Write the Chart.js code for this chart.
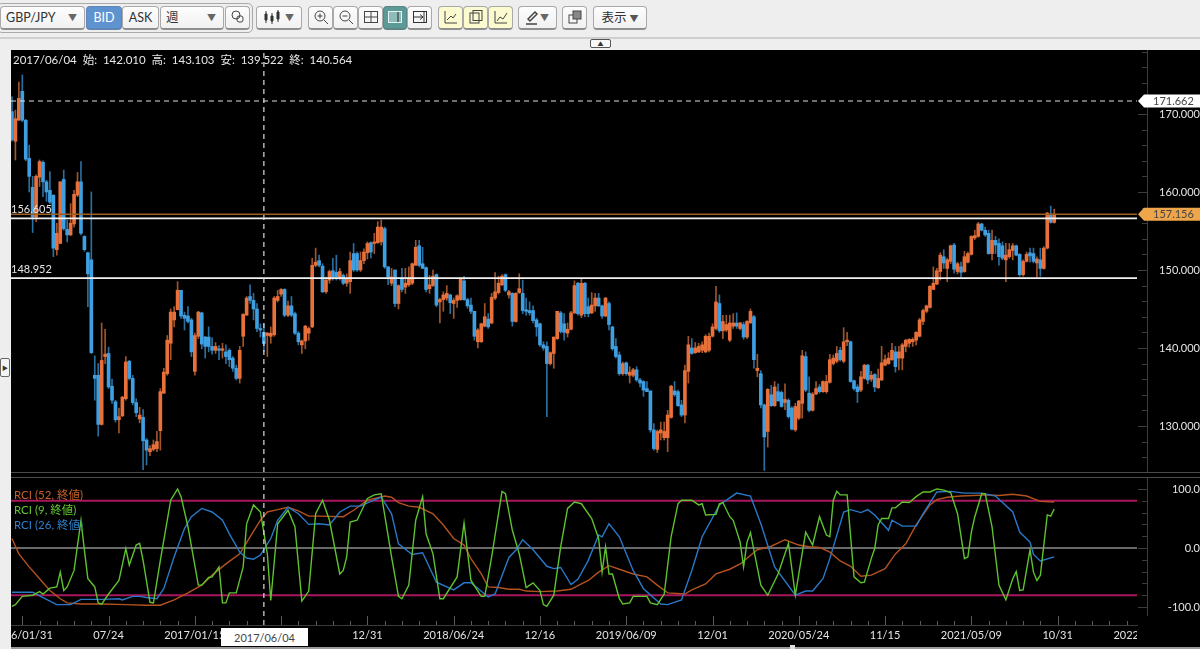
<!DOCTYPE html>
<html>
<head>
<meta charset="utf-8">
<script src="https://cdn.jsdelivr.net/npm/chart.js@4"></script>
<style>
  html, body { margin: 0; padding: 0; background: #eeeeee; overflow: hidden; }
  body { width: 1200px; height: 649px; position: relative; font-family: Lato, "Noto Sans CJK JP", sans-serif; }
  .abs { position: absolute; }
  .btn { position: absolute; top: 6px; height: 24px; box-sizing: border-box; background: linear-gradient(#fdfdfd, #f1f1f1); border: 1px solid #a9a9a9; border-bottom: 2px solid #8f8f8f; border-radius: 4px; color: #333; font-size: 12.5px; line-height: 21px; text-align: center; }
  .btn svg { display: block; margin: 2px auto 0; }
  .arrow { position: absolute; right: 7px; top: 0; font-size: 9px; color: #666; }
  .yellow { background: #fbfbcf; }
  #info { left: 13px; top: 51px; color: #e8e8e8; font-size: 11.5px; white-space: pre; z-index: 3; }
  .legend { left: 14px; font-size: 11.5px; z-index: 3; }
</style>
</head>
<body>

<!-- toolbar -->
<div class="abs" style="left:-3px;top:3px;width:256px;height:30px;border:1px solid #a9a9a9;border-radius:5px;box-sizing:border-box"></div>
<div class="btn" style="left:0;width:85px;text-align:left;padding-left:5px">GBP/JPY<span class="arrow">▼</span></div>
<div class="btn" style="left:86px;width:36px;background:#5f93cf;color:#fff;border-color:#5f86b5">BID</div>
<div class="btn" style="left:122px;width:37px">ASK</div>
<div class="btn" style="left:160px;width:64px;text-align:left;padding-left:5px">週<span class="arrow">▼</span></div>
<div class="btn" style="left:225px;width:25px"><svg width="16" height="16" fill="none" stroke="#444"><circle cx="6" cy="6" r="4"/><rect x="7" y="7" width="6" height="6" rx="2"/></svg></div>
<div class="btn" style="left:256px;width:46px;text-align:left"><svg width="22" height="16" style="margin-left:5px" stroke="#333"><path d="M4 2v12M10 4v11M16 1v12"/><path d="M3 5h2v6h-2zM9 7h2v5h-2zM15 3h2v7h-2z" fill="#333"/></svg><span class="arrow">▼</span></div>
<div class="btn" style="left:308px;width:25px"><svg width="16" height="16" fill="none" stroke="#444"><circle cx="7" cy="7" r="5"/><path d="M4.5 7h5M7 4.5v5M11 11l4 4"/></svg></div>
<div class="btn" style="left:333px;width:25px"><svg width="16" height="16" fill="none" stroke="#444"><circle cx="7" cy="7" r="5"/><path d="M4.5 7h5M11 11l4 4"/></svg></div>
<div class="btn" style="left:358px;width:25px"><svg width="16" height="16" fill="none" stroke="#444"><rect x="1.5" y="2.5" width="13" height="11"/><path d="M8 3v10M2 8h12"/></svg></div>
<div class="btn" style="left:383px;width:24px;background:#5c9a98;border-color:#5c8583"><svg width="16" height="16" fill="none" stroke="#e8f2f2"><rect x="1.5" y="2.5" width="13" height="11" fill="#8dbcba"/><path d="M11 3v10" stroke="#222"/></svg></div>
<div class="btn" style="left:407px;width:25px"><svg width="16" height="16" fill="none" stroke="#333"><rect x="1.5" y="2.5" width="13" height="11"/><path d="M2 8h9M8 5.5l3 2.5-3 2.5M12 3v10"/></svg></div>
<div class="btn yellow" style="left:438px;width:25px"><svg width="16" height="16" fill="none" stroke="#444"><path d="M2 2v12h12M4 11l4-4 2 2 3-4"/></svg></div>
<div class="btn yellow" style="left:463px;width:25px"><svg width="16" height="16" fill="none" stroke="#444"><rect x="2" y="4" width="9" height="10"/><rect x="5" y="1.5" width="9" height="10"/></svg></div>
<div class="btn yellow" style="left:488px;width:25px"><svg width="16" height="16" fill="none" stroke="#444"><path d="M2 2v12h12M4 12l3-4 3 2 4-6"/></svg></div>
<div class="btn" style="left:518px;width:39px;text-align:left"><svg width="16" height="16" style="margin-left:5px" fill="none" stroke="#444"><path d="M4 10l7-7 2 2-7 7zM2 15h11" stroke-width="1.5"/></svg><span class="arrow">▼</span></div>
<div class="btn" style="left:562px;width:25px"><svg width="16" height="16" fill="none" stroke="#444"><rect x="2" y="6" width="8" height="8"/><rect x="6" y="2" width="8" height="8" fill="#888"/></svg></div>
<div class="btn" style="left:593px;width:54px">表示 <span style="font-size:9px;color:#555">▼</span></div>

<div class="abs" style="left:0;top:37px;width:1200px;height:2px;background:#cfcfcf"></div>
<div class="abs" style="left:590px;top:39px;width:21px;height:9px;box-sizing:border-box;border:1px solid #555;border-radius:2px;background:#f8f8f8;color:#333;font-size:6px;line-height:7px;text-align:center">▲</div>
<div class="abs" style="left:0;top:358px;width:10px;height:19px;box-sizing:border-box;border:1px solid #666;border-radius:2px;background:#f4f4f4;color:#333;font-size:6px;line-height:17px;text-align:center">▶</div>

<!-- panels -->
<div class="abs" style="left:11px;top:50px;width:1189px;height:597px;background:#000"></div>
<div class="abs" style="left:11px;top:472px;width:1189px;height:1px;background:#4a4a4a;z-index:2"></div>
<div class="abs" style="left:11px;top:477px;width:1189px;height:1px;background:#4a4a4a;z-index:2"></div>
<canvas id="priceChart" class="abs" style="left:11px;top:50px" width="1189" height="422"></canvas>
<canvas id="rciChart" class="abs" style="left:11px;top:478px" width="1189" height="169"></canvas>
<div class="abs" style="left:11px;top:647px;width:1189px;height:2px;background:#9a9a9a"></div>
<div class="abs" style="left:1137px;top:626px;width:63px;height:21px;background:#000"></div>
<div class="abs" style="left:790px;top:645px;width:5px;height:4px;background:#ddd"></div>

<div id="info" class="abs">2017/06/04  始:  142.010  高:  143.103  安:  139.522  終:  140.564</div>
<div class="abs legend" style="top:486px;color:#c4622a">RCI (52, 終値)</div>
<div class="abs legend" style="top:501px;color:#63c92f">RCI (9, 終値)</div>
<div class="abs legend" style="top:516px;color:#2f7fc9">RCI (26, 終値)</div>
<div class="abs" style="left:221px;top:628px;width:87px;height:18px;background:#fff;color:#444;font-size:11px;line-height:19px;text-align:center;z-index:3">2017/06/04</div>

<script>
// weekly candles, first one is week -3 (week 0 = 2016/01/31)
const firstWeek = -3;
const opens = [
  170.3,166.5,169.2,172.9,169.2,164.3,160.6,156.8,161.9,163.8,
  161.3,160.2,159.6,152.6,153.4,161.6,155.2,154.5,155.9,159.6,
  161.3,154.3,152.2,151.3,136.5,136.5,130.2,138.9,139.3,135.1,
  133.1,130.8,131.3,133.5,138.3,136.1,133,130.9,131.1,128.2,
  126.7,127,127.1,129.4,134.2,136.7,140.6,143.6,144.9,147.4,
  144.2,144.1,143.6,137,141.5,144.5,141.4,141.4,140.2,139.7,
  139.9,139.7,139.5,139.7,138.7,137.4,136.1,141.5,144.2,146.6,
  146.1,145,142.5,142.01,141.6,141.5,141.7,146.1,146.9,147.5,
  144.2,145.4,144.4,141.9,140.4,140.9,141.9,142.7,150.6,151.2,
  150.5,147.2,148.7,149.9,149.7,149,149.3,148.3,148.5,152.1,
  152.1,150,151.2,152.2,153.5,153.4,153.5,153.6,155.3,150.4,
  148.3,150,145.7,149,147.8,148.1,148.3,150.6,153.1,150.8,
  150.3,147.6,148,149.4,145.9,146.2,146.4,146.8,145.7,146.1,
  146.2,148.6,146.2,145.5,144.7,140.8,140.8,142.8,143.7,143.2,
  146.4,147.1,148.1,149.4,146.8,147,143.4,147.1,147,144.9,
  144.8,144.8,143.6,143.1,140.4,140.2,138,139.3,141.2,144.5,
  143.1,141.9,142.4,144.5,148.3,144.2,148.3,145.3,144.5,145.4,
  146.4,145.4,144.1,145.7,142.7,140.2,139.1,136.7,138.1,136.5,
  136.5,137.2,135.9,135.7,134.8,134.5,129.5,127,129.1,128.5,
  128.5,131.1,134.5,134.4,132.7,131.4,137,140,139.4,139.5,
  139.7,139.5,139.7,141.5,142.5,145.7,142.2,142.3,141,142.8,
  143.2,142.5,143,141.4,143.2,144,137.1,136.7,132.7,129.3,
  134,132.6,134.4,134.3,133,133.3,132.3,129.5,131,132.9,
  138.9,134.2,132,134.1,135,134.4,134.4,135.6,138,138.3,
  139.7,138.3,140.8,140.8,135.8,135,134.6,136.1,137.8,136,
  136.6,134.9,135.9,137.8,138,138.5,139.5,138.7,138.7,140.2,
  140.6,140.8,141,141.5,143.4,144.7,145.2,147.5,148.2,149.8,
  151.7,150.2,151.1,153.2,149.8,150.4,149.8,151,152,154.1,
  154.3,155.9,155.1,154.7,152.1,153.8,153.4,153.1,151.3,151.7,
  152.5,153.1,152,149.4,151.1,152.2,152.1,150.9,151.3,150.2,
  152.8,157.1,156.1
];
const closes = [
  166.7,169.4,172,169.2,164.2,162,156.8,162,163.9,161.3,
  160,158.7,152.8,154.7,161.3,155.3,154.5,156,159.7,161.3,
  154.7,152.6,149.5,139.4,136.1,130.2,138.4,139.2,135,133.3,
  130.8,131.2,133.7,138.2,136.1,133,131.7,131.4,128.1,126.9,
  127.1,127.6,128,134.4,136.9,141,144.6,144.6,147.4,144.1,
  143.8,143.4,139.5,141.6,144.6,140.5,140.2,140.2,139.7,140.2,
  139.7,139.9,138.9,138.5,137.4,136.1,139.7,144.3,146.4,146.1,
  145,142.5,142.3,140.564,141.9,141.9,146.4,146.6,147.5,144.2,
  145.4,144.2,141.9,140.8,140.9,142.8,142.5,150.6,151,150.6,
  147.2,148.7,149.8,149.1,149.1,149.8,148.3,148.9,151.2,150,
  150,151.2,152.3,153.4,152.3,153.6,155.5,155.5,150.4,149.1,
  149.1,145.7,148,147.5,148.3,149,150.8,152.9,150.6,150.2,
  147.5,148.1,149.2,145.5,146.2,146.8,147,145.8,146.1,146.7,
  148.8,146.2,145.4,144.7,141.5,142.3,143.1,144,142.7,146.5,
  147.2,148.3,149.2,147.4,147.2,143.4,147,147.6,144.8,144.7,
  144.5,143.5,142.7,140.4,140,138,139.4,141.4,144.7,142.1,
  142,142.4,144.5,148,144.4,148.3,144.4,144.4,145.5,146.4,
  145.4,144.1,146.4,143,139.9,138.9,136.7,138,136.7,136.9,
  137.2,135.9,135.5,134.6,134.4,129.5,127.1,129.3,129.5,129.3,
  131.4,135.1,134,132.6,131.4,137.1,140.4,139.3,140,140.2,
  140.4,141.5,141.5,142.7,145.9,142.2,143.4,143,143.2,143.2,
  142.8,143.2,141.4,143.4,144.7,138.5,137.4,132.7,128.6,134.7,
  132.6,135,133.2,132.5,133.4,131.2,129.6,132.5,133.2,139,
  134.6,132,134.1,134.8,134.4,135.7,135.7,138.5,138.7,139.3,
  138.5,140.8,141,135.7,134.8,134.4,136.3,137.8,135.9,136.5,
  135,136.1,138.1,138.5,138.7,139.7,137.6,139.5,140.4,141,
  141.1,141.1,142,143.6,144.8,145.4,147.9,148.3,149.9,151.9,
  150.9,151.3,153.1,150.1,150.8,149.7,151.7,152.1,154.3,154.4,
  155.9,155.1,154.5,152.1,153.8,153.2,151.7,151.5,151.9,152.6,
  153.1,151.9,149.4,151.1,152,151.8,151.1,151.4,150.2,152.8,
  157.3,156.1,157.156
];
const highs = [
  172.2,170.5,174.1,175,169.3,166,162,162.2,164.1,164,
  161.5,162.6,159.6,156,161.3,162.8,156.4,158.5,160.2,162.5,
  163.9,154.4,152.3,160,139,138,143.2,142.4,140.1,136,
  133.3,132.3,133.8,138.9,138.4,136.5,133.5,132.4,132.1,128.4,
  127.5,128.2,129.3,134.8,137.4,141.6,145,145.3,148.5,147.4,
  144.6,145.3,143.8,141.9,144.7,144.6,141.5,142.7,141.3,140.7,
  140.3,140.6,140.4,139.9,138.9,137.8,140.2,144.4,146.6,148.1,
  147,145.7,143.1,143.103,142,142.7,146.6,147.4,147.6,147.6,
  146,146.6,144.6,142.1,141,142.9,142.7,151.5,152.8,151.9,
  150.8,149.1,150,151.5,151.9,150.2,149.5,149.5,152.3,153.4,
  152.3,152.3,152.7,153.6,153.6,154.7,156.2,156.4,155.5,150.4,
  150.2,150,148.1,150.2,150.2,150.4,150.9,153.8,153.8,152.9,
  150.4,149.3,150,149.5,146.4,147.2,148,146.9,146.4,146.8,
  149,149.2,146.4,146.4,144.7,142.5,143.2,145.7,144.4,147,
  149.65,149.2,149.4,149.5,147.4,147.1,147.1,149.5,148.7,146.4,
  145.9,145.4,143.8,143.2,140.8,140.8,139.5,141.4,144.7,144.7,
  144.4,143.2,144.7,148.6,148.4,148.8,148.4,146.4,147.1,147,
  147,145.5,146.5,145.9,142.8,141.2,139.5,138.2,138.2,137.6,
  137.4,137.6,136.1,135.8,135.7,134.5,130.3,129.5,130.5,130.5,
  132,135.2,135.7,134.6,133.3,137.8,141.5,141.2,140.7,140.6,
  140.8,141.7,141.9,143.1,147.9,146.8,144.2,144.2,144.2,144.4,
  144.5,143.3,143.3,143.5,145,144.2,139.2,137.1,132.8,134.8,
  135.2,135.7,135.4,134.5,135.4,133.5,132.5,132.9,133.3,139.7,
  139.5,136.3,134.3,135.7,135.3,135.8,136.5,139.2,139.1,140.2,
  140.1,142.6,142,140.9,135.9,135.3,137,137.9,137.9,137,
  136.7,137.3,140.2,139.1,139.4,140.6,140.2,140.2,140.6,141.1,
  141.2,141.3,142.1,143.8,145,145.5,148,150.4,150.2,152.2,
  152.6,151.5,153.2,153.4,151,151,152.4,152.3,154.4,155.1,
  156.1,156,155.5,155.1,155.1,154.3,154,153.6,153.4,153.4,
  153.4,153.2,152.1,151.3,152.3,152.8,152.8,151.7,152.8,153,
  157.4,158.2,157.8
];
const lows = [
  166.5,164.1,169.2,169,164,160,154.8,156.2,160.7,159.4,
  158.8,158.5,151.7,151.9,153.4,155.1,153.6,154.4,155.5,159.4,
  154.5,152.4,145.3,139.3,133.3,128.7,130.1,138,134.8,132.9,
  130.5,129.1,131.2,133.3,135.9,132.7,131.2,130.4,124.4,125,
  126.2,126.8,126.7,126.9,134.2,136.5,138.5,142.7,144.9,143.8,
  142.3,143.2,138.9,136.5,141.2,139.9,138.7,139.5,139.2,139.3,
  138.5,138.7,138,137.6,137,135.9,135.5,140.2,144.2,145.7,
  143.6,142.1,141.4,139.522,138.9,140.6,141.5,145.9,146.6,144,
  144,144,141.7,140.4,139.3,139.9,141,142.6,150.4,150.4,
  147.1,147,148.3,148.7,148.7,148.7,148.1,147.9,147,149.8,
  149.8,149.8,150.8,151.4,151.5,152.1,153.4,153.2,150.2,148.1,
  148,145.3,145,147.2,147,147.9,148.1,150.6,150.4,150.2,
  147.2,147,147.9,145.3,143.2,144.7,146.1,144.4,143.8,145.2,
  146.1,146.1,145.1,144.4,141,140,140.7,142.7,142.5,143.1,
  146.2,146.9,148,147.2,146.4,142.8,143.3,147,144.4,144.2,
  144.2,143.2,141.5,140.2,139.7,131.2,137.8,137.4,141.1,141.9,
  141,141.4,142.3,144.4,144.2,143.9,144,144,144.4,144.7,
  145.3,143.8,144,142.3,139.7,138.7,136.5,136.5,136.5,135.5,
  136.3,135.7,135,133.8,134.4,129.2,126.9,126.6,128.2,128.2,
  126.7,131,133.8,132.5,131.2,130.4,135.5,139.2,139.3,139.4,
  139.4,139.4,139.5,141.4,142.3,142,141.2,142.1,140.8,142.5,
  142.5,142.3,141.1,141.2,143.2,137.4,136.3,132.3,124.3,127.3,
  132.5,132.5,133.2,132.4,132.1,131,129.5,129.3,130.8,131,
  134.4,131.8,131.9,134,134.2,134.3,134.2,135.5,137.8,138.1,
  138.3,138.1,140.3,135.6,134.6,133,134.4,136,135.4,135.7,
  134.4,134.8,135.8,137.7,137.9,138.4,136.9,137.2,137.2,139.5,
  140.1,140.2,140.4,141.4,143,144.5,145.1,147.5,148.1,148.7,
  150.2,148.5,150.8,149.6,149.5,149.1,149.7,150.9,151.9,153.9,
  154.2,155,154.3,152,151.3,152.1,150.6,151.3,148.5,151.5,
  151.3,151.8,149.2,149.2,151,151,150.9,149.1,149.2,150.1,
  152.7,156,156
];

// RCI lines, read at their turning points
const rci52Weeks = [-3,-1,2,5,8,11,13,17,23,30,36,40,44,48,52,55,59,63,66,69,71,74,77,80,83,86,93,96,100,105,107,109,112,115,119,122,125,128,130,133,135,138,141,144,146,150,155,159,162,164,167,170,173,177,181,184,187,192,194,198,201,205,208,213,217,221,225,228,231,234,237,240,243,246,250,253,256,259,263,265,268,272,280,283,287,291,295,299];
const rci52Values = [16,-10,-32,-52,-72,-86,-93,-95,-95,-96,-97,-97,-88,-76,-63,-46,-27,-10,19,47,61,65,69,63,54,54,53,64,81,88,86,77,71,69,58,39,16,5,-18,-44,-66,-67,-70,-70,-73,-74,-73,-70,-61,-55,-41,-30,-36,-44,-49,-63,-76,-78,-71,-61,-44,-36,-27,-3,3,14,5,2,1,-7,-22,-31,-48,-46,-35,-10,7,39,73,82,86,88,90,89,91,88,79,78];
const rci9Weeks = [-3,-2,0,3,5,6,8,10,11,12,13,15,17,18,19,21,22,23,25,28,30,31,33,34,35,37,38,40,43,45,46,48,51,52,54,55,57,58,59,60,62,64,65,67,69,71,72,74,77,79,81,83,85,87,89,92,93,94,95,97,100,102,104,107,109,110,112,114,116,117,119,121,122,126,128,130,133,134,136,139,140,142,144,146,148,150,151,152,154,156,158,160,162,165,167,168,169,170,171,173,174,176,177,181,182,184,186,188,190,191,194,196,197,198,201,202,203,205,206,208,209,210,211,212,214,216,219,222,224,225,227,229,231,233,234,235,236,237,239,241,243,244,246,247,248,249,251,252,253,255,257,259,261,263,265,267,269,271,273,274,275,276,278,279,281,283,285,287,288,289,290,292,293,294,295,297,298,299];
const rci9Values = [-99,-96,-82,-80,-74,-78,-68,-66,-41,-72,-66,-38,47,-4,-52,-66,-93,-95,-78,-55,-1,-29,5,8,-21,-92,-93,-21,81,100,87,36,-63,-63,-50,-49,-32,-93,-93,-76,-76,-32,41,73,61,-10,-89,41,64,36,-90,-73,58,81,47,-44,-38,-15,44,47,84,90,92,-15,-82,-86,-63,47,87,24,-10,-86,-86,-49,42,-55,-82,-82,-15,96,92,30,-10,-67,-59,-72,-96,-99,-80,2,67,78,75,50,16,-41,2,-44,-44,-86,-95,-93,-82,-82,-93,-96,-78,19,75,81,81,73,75,56,57,75,77,53,47,10,-32,10,26,-4,-63,-80,-44,8,-80,-44,27,5,53,22,19,81,96,90,90,-49,-59,-58,-18,-1,39,50,50,68,68,78,77,87,95,95,100,98,94,58,-18,-15,27,53,92,92,36,-63,-88,-52,-40,-72,-71,-3,-41,-55,-46,56,54,66];
const rci26Weeks = [-3,3,6,10,14,17,23,28,29,32,34,36,39,41,44,47,49,52,55,58,60,63,65,67,69,72,74,77,80,83,86,89,92,95,98,101,104,107,109,113,116,120,125,128,130,135,137,141,143,145,148,152,154,156,159,161,164,167,168,170,173,177,180,185,187,191,194,197,202,207,211,214,218,224,227,229,232,234,238,240,243,245,247,251,252,255,259,261,265,269,273,278,282,287,289,292,293,295,299];
const rci26Values = [-75,-75,-84,-96,-96,-87,-87,-86,-88,-82,-82,-84,-86,-69,-15,33,53,67,61,47,24,-7,-17,-19,-12,16,47,69,58,40,41,39,61,71,71,79,86,58,7,-11,-8,-58,-71,-59,-59,-83,-78,-16,-4,14,-3,-31,-35,-33,-62,-53,-21,22,19,41,19,-38,-69,-95,-96,-88,-38,19,73,93,88,41,-32,-80,-73,-73,-52,-18,61,65,60,65,56,30,47,37,37,58,95,96,93,93,88,61,27,10,-11,-22,-15];

// horizontal levels of the price panel
const lastPrice = 157.156;
const highLevel = 171.662;
const supportLevels = [156.605, 148.952];
const cursorWeek = 70;

// axes
const priceTicks = [130, 140, 150, 160, 170];
const rciTicks = [-100, 0, 100];
const rciBands = [80, -80];
const dateTickWeeks = [0,25,50,75,100,125,150,175,200,225,250,275,300,325];
const dateTickLabels = ["2016/01/31","07/24","2017/01/15","07/09","12/31","2018/06/24","12/16","2019/06/09","12/01","2020/05/24","11/15","2021/05/09","10/31","2022/04/24"];

const weekMin = -3.274, weekMax = 323;
const fontFamily = 'Lato, "Noto Sans CJK JP", sans-serif';
const labelColor = "#e4e4e4";

Chart.defaults.font.family = fontFamily;
Chart.defaults.animation = false;

const weeks = opens.map((_, i) => firstWeek + i);
const upColor = "#e8703a", downColor = "#3f9fe0";
const upWick = "#a0552c", downWick = "#2a6f9f";
const isUp = closes.map((c, i) => c >= opens[i]);

function toPoints(xs, ys) {
  return xs.map((x, i) => ({ x: x, y: ys[i] }));
}

function levelLine(value, color, width, dash) {
  return {
    type: "line",
    data: [{ x: weekMin, y: value }, { x: weekMax, y: value }],
    borderColor: color,
    borderWidth: width,
    borderDash: dash || [],
    pointRadius: 0,
    order: 1,
  };
}

function cursorLine(min, max) {
  return {
    type: "line",
    data: [{ x: cursorWeek, y: min }, { x: cursorWeek, y: max }],
    borderColor: "#dddddd",
    borderWidth: 1.2,
    borderDash: [5, 4],
    pointRadius: 0,
    order: 0,
  };
}

function rciLine(weekList, values, color, order) {
  return {
    type: "line",
    data: toPoints(weekList, values),
    borderColor: color,
    borderWidth: 1.4,
    pointRadius: 0,
    tension: 0,
    order: order,
  };
}

// tick scales shared by both panels
function valueAxis(min, max, tickValues, digits, padding) {
  return {
    position: "right",
    min: min,
    max: max,
    grid: { display: false, drawTicks: false },
    border: { display: false },
    afterBuildTicks: (s) => { s.ticks = tickValues.map((v) => ({ value: v })); },
    afterFit: (s) => { s.width = 63; s.paddingTop = 0; s.paddingBottom = 0; },
    ticks: {
      autoSkip: false,
      color: labelColor,
      font: { size: 11 },
      crossAlign: "far",
      padding: padding,
      callback: (v) => v.toFixed(digits),
    },
  };
}

// tick marks sit inside the panel here, the library draws them outside, so done by hand
function sideTicks(chart, minorStep, majorStep, gapBelow) {
  const { ctx, chartArea, scales } = chart;
  const axisX = chartArea.right + 10;
  ctx.save();
  ctx.strokeStyle = "#3c3c3c";
  ctx.lineWidth = 1;
  ctx.beginPath();
  ctx.moveTo(axisX + 0.5, chartArea.top);
  ctx.lineTo(axisX + 0.5, chartArea.bottom - gapBelow);
  for (let v = scales.y.min - (scales.y.min % minorStep); v <= scales.y.max; v += minorStep) {
    const py = Math.round(scales.y.getPixelForValue(v)) + 0.5;
    if (py > chartArea.bottom - gapBelow) continue;
    const len = Math.abs(v % majorStep) < 1e-6 ? 9 : 5;
    ctx.moveTo(axisX - len, py);
    ctx.lineTo(axisX, py);
  }
  ctx.stroke();
  ctx.restore();
}

const priceMarks = {
  id: "priceMarks",
  afterDraw(chart) {
    const { ctx, chartArea, scales } = chart;
    sideTicks(chart, 2, 10, 0);
    ctx.save();
    ctx.font = "11px " + fontFamily;
    ctx.textBaseline = "middle";
    // level captions at the left edge
    ctx.fillStyle = labelColor;
    ctx.textAlign = "left";
    supportLevels.forEach((v) => {
      ctx.fillText(v.toFixed(3), chartArea.left, scales.y.getPixelForValue(v) - 9);
    });
    // price tags on the axis
    [[highLevel, "#ffffff"], [lastPrice, "#efa64a"]].forEach(([v, fill]) => {
      const py = scales.y.getPixelForValue(v);
      const x0 = chartArea.right + 1;
      ctx.fillStyle = fill;
      ctx.beginPath();
      ctx.moveTo(x0, py);
      ctx.lineTo(x0 + 6, py - 6.5);
      ctx.lineTo(chart.width, py - 6.5);
      ctx.lineTo(chart.width, py + 6.5);
      ctx.lineTo(x0 + 6, py + 6.5);
      ctx.closePath();
      ctx.fill();
      ctx.fillStyle = "#444444";
      ctx.fillText(v.toFixed(3), chartArea.right + 16, py + 0.5);
    });
    ctx.restore();
  },
};

const rciMarks = {
  id: "rciMarks",
  afterDraw(chart) {
    const { ctx, chartArea, scales } = chart;
    sideTicks(chart, 20, 100, 9);
    ctx.save();
    ctx.strokeStyle = "#5a5a5a";
    ctx.lineWidth = 1;
    ctx.beginPath();
    for (let w = 0; w <= weekMax; w += 5) {
      const px = Math.round(scales.x.getPixelForValue(w)) + 0.5;
      const len = w % 25 === 0 ? 9 : 4;
      ctx.moveTo(px, chartArea.bottom - len);
      ctx.lineTo(px, chartArea.bottom);
    }
    ctx.stroke();
    ctx.restore();
  },
};

new Chart(document.getElementById("priceChart"), {
  type: "bar",
  data: {
    datasets: [
      {
        data: weeks.map((w, i) => ({ x: w, y: [opens[i], closes[i]] })),
        backgroundColor: isUp.map((u) => (u ? upColor : downColor)),
        barThickness: 3,
        grouped: false,
        order: 2,
      },
      {
        data: weeks.map((w, i) => ({ x: w, y: [lows[i], highs[i]] })),
        backgroundColor: isUp.map((u) => (u ? upWick : downWick)),
        barThickness: 1,
        grouped: false,
        order: 3,
      },
      levelLine(lastPrice, "#9c6020", 1.5),
      levelLine(supportLevels[0], "#f2f2f2", 1.7),
      levelLine(supportLevels[1], "#f2f2f2", 1.7),
      levelLine(highLevel, "#dddddd", 1.2, [5, 4]),
      cursorLine(124.1, 178.2),
    ],
  },
  options: {
    responsive: false,
    plugins: { legend: { display: false }, tooltip: { enabled: false } },
    layout: { padding: 0 },
    scales: {
      x: { type: "linear", min: weekMin, max: weekMax, offset: false, display: false },
      y: valueAxis(124.1, 178.2, priceTicks, 3, 16),
    },
  },
  plugins: [priceMarks],
});

new Chart(document.getElementById("rciChart"), {
  type: "line",
  data: {
    datasets: [
      levelLine(rciBands[0], "#a8175c", 2),
      levelLine(rciBands[1], "#a8175c", 2),
      levelLine(0, "#8c8c8c", 1.5),
      rciLine(rci52Weeks, rci52Values, "#b4521f", 0.3),
      rciLine(rci26Weeks, rci26Values, "#2a78c8", 0.2),
      rciLine(rci9Weeks, rci9Values, "#5fc22f", 0.1),
      cursorLine(-130.5, 118.6),
    ],
  },
  options: {
    responsive: false,
    plugins: { legend: { display: false }, tooltip: { enabled: false } },
    layout: { padding: 0 },
    scales: {
      x: {
        type: "linear",
        min: weekMin,
        max: weekMax,
        grid: { display: false, drawTicks: false },
        border: { display: true, color: "#3a3a3a" },
        afterBuildTicks: (s) => { s.ticks = dateTickWeeks.map((w) => ({ value: w })); },
        afterFit: (s) => { s.height = 22; s.paddingLeft = 0; s.paddingRight = 0; },
        ticks: {
          autoSkip: false,
          maxRotation: 0,
          color: labelColor,
          font: { size: 11 },
          padding: 4,
          callback: (v, i) => dateTickLabels[i],
        },
      },
      y: valueAxis(-130.5, 118.6, rciTicks, 1, 25),
    },
  },
  plugins: [rciMarks],
});
</script>
</body>
</html>
